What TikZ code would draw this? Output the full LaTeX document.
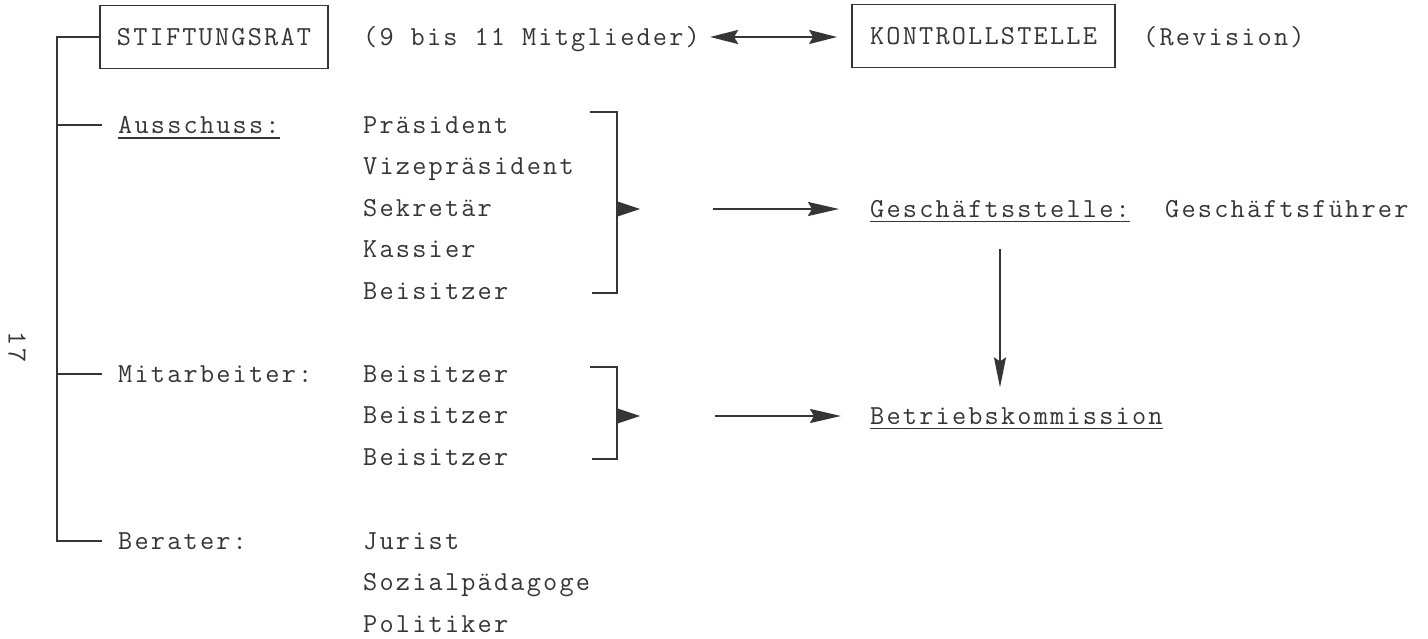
\documentclass[tikz,border=0pt]{standalone}
\usepackage{fontspec}
\newfontfamily\tw[LetterSpace=8]{Latin Modern Mono}
\usetikzlibrary{arrows.meta}
\definecolor{ink}{HTML}{353535}
\newcommand\wsp{\hspace{17pt}}
\begin{document}
\begin{tikzpicture}[x=1pt,y=-1pt,
  txt/.style={font=\tw\fontsize{27.5}{30}\selectfont, inner sep=0pt, text height=16.8pt, text depth=0pt, anchor=west, text=ink},
  boxnode/.style={txt, anchor=center, draw=ink, line width=1.8pt, minimum height=63pt},
  ln/.style={draw=ink, line width=1.8pt},
  arr/.style={draw=ink, line width=2.2pt, -{Stealth[length=31pt,width=14pt,inset=4pt]}},
  darr/.style={draw=ink, line width=2.2pt, {Stealth[length=28pt,width=14pt,inset=4pt]}-{Stealth[length=28pt,width=14pt,inset=4pt]}},
  varr/.style={draw=ink, line width=1.6pt, -{Stealth[length=30pt,width=12pt,inset=4pt]}},
  tri/.style={fill=ink},
]
\useasboundingbox[fill=white] (0,0) rectangle (1428,639);

% top row
\node[boxnode, minimum width=228pt] (sr) at (214,37) {STIFTUNGSRAT};
\node[txt] (mit) at (363,37) {(9\wsp bis\wsp 11\wsp Mitglieder)};
\node[boxnode, minimum width=263pt] (ks) at (983.5,36) {KONTROLLSTELLE};
\node[txt] (rev) at (1143,37) {(Revision)};
\draw[darr, shorten <=10pt, shorten >=14pt] (mit.east) -- (mit.east -| ks.west);

% left labels
\node[txt] (aus) at (118,125) {Ausschuss:};
\node[txt] (mita) at (118,374) {Mitarbeiter:};
\node[txt] (ber) at (118,541) {Berater:};
\draw[ln, line width=1.5pt] ([yshift=-4.5pt]aus.south west) -- ([yshift=-4.5pt]aus.south east);

% tree
\draw[ln] (sr.west) -| ([xshift=-61pt]ber.west) -- ([xshift=-16pt]ber.west);
\draw[ln] ([xshift=-61pt]aus.west) -- ([xshift=-16pt]aus.west);
\draw[ln] ([xshift=-61pt]mita.west) -- ([xshift=-16pt]mita.west);

% Ausschuss members
\node[txt] (p1) at (363,125) {Präsident};
\node[txt] (p2) at (363,166.5) {Vizepräsident};
\node[txt] (p3) at (363,208) {Sekretär};
\node[txt] (p4) at (363,249.5) {Kassier};
\node[txt] (p5) at (363,291) {Beisitzer};

% Mitarbeiter members
\node[txt] (m1) at (363,374) {Beisitzer};
\node[txt] (m2) at (363,415.5) {Beisitzer};
\node[txt] (m3) at (363,457) {Beisitzer};

% Berater members
\node[txt] (b1) at (363,541) {Jurist};
\node[txt] (b2) at (363,582.5) {Sozialpädagoge};
\node[txt] (b3) at (363,624) {Politiker};

% page number
\node[txt, anchor=center, rotate=-90] (pg) at (17,347) {17};

% right side
\node[txt] (gs) at (870,209) {Geschäftsstelle:};
\node[txt] (gf) at (1165,209) {Geschäftsführer};
\node[txt] (bk) at (870,416) {Betriebskommission};
\draw[ln, line width=1.5pt] ([yshift=-4pt]gs.south west) -- ([yshift=-4pt]gs.south east);
\draw[ln, line width=1.5pt] ([yshift=-4pt]bk.south west) -- ([yshift=-4pt]bk.south east);

% brackets
\draw[ln] (590,112) -| (617,293) -- (592,293);
\fill[tri] (616,201) -- (640,209) -- (616,217) -- cycle;
\draw[ln] (590,367) -| (617,459) -- (592,459);
\fill[tri] (616,408) -- (640,416) -- (616,424) -- cycle;

\coordinate (a1) at (713,209);
\coordinate (a2) at (715,416);
\draw[arr, shorten >=31pt] (a1) -- (a1 -| gs.west);
\draw[arr, shorten >=29pt] (a2) -- (a2 -| bk.west);

% vertical arrow
\draw[varr, shorten <=31pt, shorten >=20pt] (gs.south) -- (gs.south |- bk.north);
\end{tikzpicture}
\end{document}
